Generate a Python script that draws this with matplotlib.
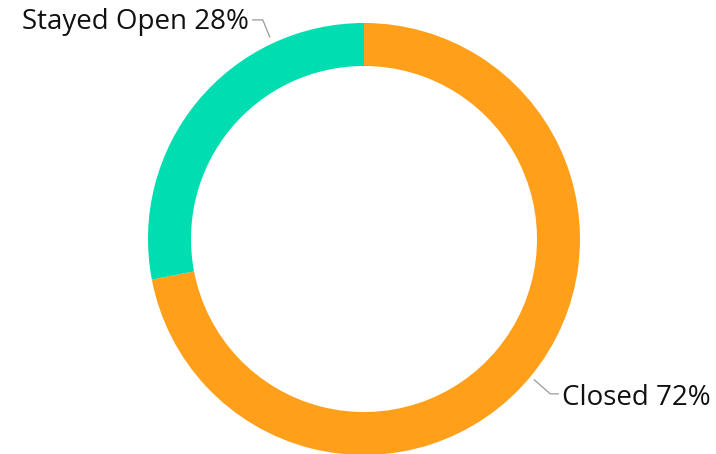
import numpy as np
import matplotlib.pyplot as plt

# Anteile in Prozent
labels = ['Closed', 'Stayed Open']
values = [72, 28]
colors = ['#FF9F1A', '#00DDB0']

W, H = 716, 454
fig = plt.figure(figsize=(W / 100, H / 100), dpi=100)
ax = fig.add_axes([0, 0, 1, 1])

cx, cy = 364, H - 239
radius = 216
ring = 43

wedges, _ = ax.pie(values, colors=colors, startangle=90, counterclock=False,
                   radius=radius, center=(cx, cy), frame=True,
                   wedgeprops=dict(width=ring, linewidth=0))
ax.set_xlim(0, W)
ax.set_ylim(0, H)
ax.set_aspect('equal')
ax.axis('off')

font = dict(family=['Open Sans', 'DejaVu Sans'], fontsize=20, color='#111111')
line_kw = dict(color='#999999', lw=0.9)

# Closed: Linie an der Mitte des Segments
w = wedges[0]
mid = np.deg2rad((w.theta1 + w.theta2) / 2)
p0 = (cx + (radius + 5) * np.cos(mid), cy + (radius + 5) * np.sin(mid))
elbow = (p0[0] + 16, p0[1] - 14)
end = (elbow[0] + 8, elbow[1])
ax.plot([p0[0], elbow[0], end[0]], [p0[1], elbow[1], end[1]], **line_kw)
ax.text(end[0] + 4, end[1] - 4, f'{labels[0]} {values[0]}%', ha='left', va='center', **font)

# Stayed Open: Beschriftung nach oben verschoben
ang = np.deg2rad(115)
p0 = (cx + (radius + 7) * np.cos(ang), cy + (radius + 7) * np.sin(ang))
elbow = (p0[0] - 7, p0[1] + 17)
end = (elbow[0] - 10, elbow[1])
ax.plot([p0[0], elbow[0], end[0]], [p0[1], elbow[1], end[1]], **line_kw)
ax.text(end[0] - 4, end[1] - 2, f'{labels[1]} {values[1]}%', ha='right', va='center', **font)

fig.savefig('out.png', dpi=100, facecolor='white')
